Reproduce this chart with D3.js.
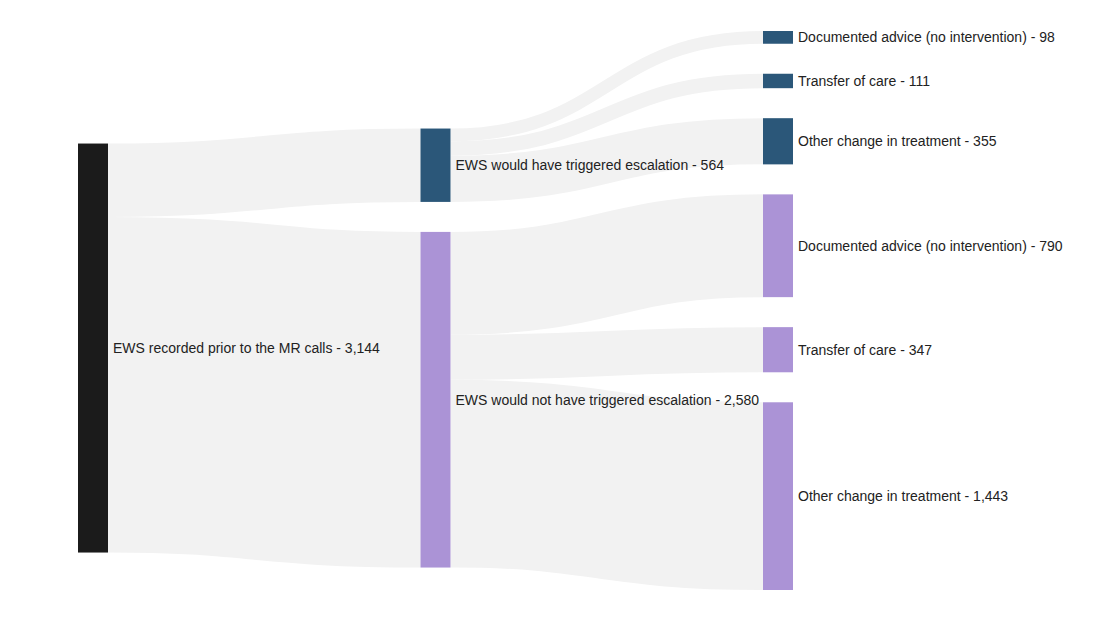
<!DOCTYPE html>
<html>
<head>
<meta charset="utf-8">
<script src="https://cdn.jsdelivr.net/npm/d3@7"></script>
<style>
  body { margin: 0; background: #fff; }
  text { font-family: "Liberation Sans", Arial, sans-serif; font-size: 14px; fill: #222; }
</style>
</head>
<body>
<svg id="chart" width="1110" height="620"></svg>
<script>
// nodes, in column order
var nodeNames = [
    "EWS recorded prior to the MR calls",
    "EWS would have triggered escalation",
    "EWS would not have triggered escalation",
    "Documented advice (no intervention)",
    "Transfer of care",
    "Other change in treatment",
    "Documented advice (no intervention)",
    "Transfer of care",
    "Other change in treatment"];
var nodeGroup = ["all", "yes", "no", "yes", "yes", "yes", "no", "no", "no"];

// links
var linkSource = [0, 0, 1, 1, 1, 2, 2, 2];
var linkTarget = [1, 2, 3, 4, 5, 6, 7, 8];
var linkValue = [564, 2580, 98, 111, 355, 790, 347, 1443];

var groupColor = { all: "#1b1b1b", yes: "#2b5779", no: "#ab93d6" };

var svg = d3.select("#chart");
var x0 = 78, x1 = 793, y0 = 31, y1 = 590;
var nodeWidth = 30, pad = 30, iterations = 1;

// build graph
var nodes = nodeNames.map(function (d, i) {
    return { index: i, name: d, group: nodeGroup[i], sourceLinks: [], targetLinks: [] };
});
var links = linkValue.map(function (v, i) {
    var l = { source: nodes[linkSource[i]], target: nodes[linkTarget[i]], value: v };
    l.source.sourceLinks.push(l);
    l.target.targetLinks.push(l);
    return l;
});
nodes.forEach(function (n) {
    n.value = Math.max(d3.sum(n.sourceLinks, function (l) { return l.value; }),
                       d3.sum(n.targetLinks, function (l) { return l.value; }));
});

// depth = column
nodes.forEach(function (n) { n.depth = 0; });
links.forEach(function () {
    links.forEach(function (l) { l.target.depth = Math.max(l.target.depth, l.source.depth + 1); });
});
var nCols = d3.max(nodes, function (n) { return n.depth; }) + 1;
var columns = d3.range(nCols).map(function (c) {
    return nodes.filter(function (n) { return n.depth === c; });
});

var xScale = d3.scaleLinear().domain([0, nCols - 1]).range([x0, x1 - nodeWidth]);
nodes.forEach(function (n) { n.x0 = xScale(n.depth); n.x1 = n.x0 + nodeWidth; });

// vertical scale from the tightest column
var ky = d3.min(columns, function (c) {
    return (y1 - y0 - (c.length - 1) * pad) / d3.sum(c, function (n) { return n.value; });
});
var yScale = d3.scaleLinear().domain([0, 1]).range([0, ky]);
links.forEach(function (l) { l.width = yScale(l.value); });

function byY(a, b) { return a.y0 - b.y0; }
function reorderLinks(n) {
    n.sourceLinks.sort(function (a, b) { return a.target.y0 - b.target.y0; });
    n.targetLinks.sort(function (a, b) { return a.source.y0 - b.source.y0; });
}

columns.forEach(function (col) {
    var y = y0;
    col.forEach(function (n) {
        n.y0 = y;
        n.y1 = y + yScale(n.value);
        y = n.y1 + pad;
    });
    var extra = (y1 - y + pad) / (col.length + 1);
    col.forEach(function (n, i) { n.y0 += extra * (i + 1); n.y1 += extra * (i + 1); });
});
nodes.forEach(reorderLinks);

function targetTop(source, target) {
    var y = source.y0 - (source.sourceLinks.length - 1) * pad / 2;
    for (var i = 0; i < source.sourceLinks.length; i++) {
        var l = source.sourceLinks[i];
        if (l.target === target) break;
        y += l.width + pad;
    }
    for (var j = 0; j < target.targetLinks.length; j++) {
        var m = target.targetLinks[j];
        if (m.source === source) break;
        y -= m.width;
    }
    return y;
}
function sourceTop(source, target) {
    var y = target.y0 - (target.targetLinks.length - 1) * pad / 2;
    for (var i = 0; i < target.targetLinks.length; i++) {
        var l = target.targetLinks[i];
        if (l.source === source) break;
        y += l.width + pad;
    }
    for (var j = 0; j < source.sourceLinks.length; j++) {
        var m = source.sourceLinks[j];
        if (m.target === target) break;
        y -= m.width;
    }
    return y;
}
function pushDown(col, y, i, a) {
    for (; i < col.length; i++) {
        var n = col[i], dy = (y - n.y0) * a;
        if (dy > 1e-6) { n.y0 += dy; n.y1 += dy; }
        y = n.y1 + pad;
    }
}
function pushUp(col, y, i, a) {
    for (; i >= 0; i--) {
        var n = col[i], dy = (n.y1 - y) * a;
        if (dy > 1e-6) { n.y0 -= dy; n.y1 -= dy; }
        y = n.y0 - pad;
    }
}
function resolve(col, a) {
    var i = col.length >> 1, s = col[i];
    pushUp(col, s.y0 - pad, i - 1, a);
    pushDown(col, s.y1 + pad, i + 1, a);
    pushUp(col, y1, col.length - 1, a);
    pushDown(col, y0, 0, a);
}
function reorderAround(n) {
    n.targetLinks.forEach(function (l) { reorderLinks(l.source); });
    n.sourceLinks.forEach(function (l) { reorderLinks(l.target); });
}

for (var it = 0; it < iterations; it++) {
    var alpha = Math.pow(0.99, it);
    var beta = Math.max(1 - alpha, (it + 1) / iterations);
    // right to left
    for (var c = nCols - 2; c >= 0; c--) {
        columns[c].forEach(function (s) {
            var y = 0, w = 0;
            s.sourceLinks.forEach(function (l) {
                var v = l.value * (l.target.depth - s.depth);
                y += sourceTop(s, l.target) * v; w += v;
            });
            if (!(w > 0)) return;
            var dy = (y / w - s.y0) * alpha;
            s.y0 += dy; s.y1 += dy;
            reorderAround(s);
        });
        columns[c].sort(byY);
        resolve(columns[c], beta);
    }
    // left to right
    for (var c2 = 1; c2 < nCols; c2++) {
        columns[c2].forEach(function (t) {
            var y = 0, w = 0;
            t.targetLinks.forEach(function (l) {
                var v = l.value * (t.depth - l.source.depth);
                y += targetTop(l.source, t) * v; w += v;
            });
            if (!(w > 0)) return;
            var dy = (y / w - t.y0) * alpha;
            t.y0 += dy; t.y1 += dy;
            reorderAround(t);
        });
        columns[c2].sort(byY);
        resolve(columns[c2], beta);
    }
}

// link breadths
nodes.forEach(reorderLinks);
nodes.forEach(function (n) {
    var ys = n.y0, yt = n.y0;
    n.sourceLinks.forEach(function (l) { l.y0 = ys + l.width / 2; ys += l.width; });
    n.targetLinks.forEach(function (l) { l.y1 = yt + l.width / 2; yt += l.width; });
});

var linkPath = d3.linkHorizontal()
    .source(function (d) { return [d.source.x1, d.y0]; })
    .target(function (d) { return [d.target.x0, d.y1]; });

svg.append("g")
    .attr("fill", "none")
    .selectAll("path")
    .data(links)
    .enter()
    .append("path")
    .attr("d", linkPath)
    .attr("stroke", "#f2f2f2")
    .attr("stroke-width", function (d) { return Math.max(1, d.width); });

svg.append("g")
    .selectAll("rect")
    .data(nodes)
    .enter()
    .append("rect")
    .attr("x", function (d) { return d.x0; })
    .attr("y", function (d) { return d.y0; })
    .attr("width", function (d) { return d.x1 - d.x0; })
    .attr("height", function (d) { return d.y1 - d.y0; })
    .attr("fill", function (d) { return groupColor[d.group]; });

var fmt = d3.format(",");
svg.append("g")
    .selectAll("text")
    .data(nodes)
    .enter()
    .append("text")
    .attr("x", function (d) { return d.x1 + 5; })
    .attr("y", function (d) { return (d.y0 + d.y1) / 2; })
    .attr("dy", "0.35em")
    .text(function (d) { return d.name + " - " + fmt(d.value); });
</script>
</body>
</html>
